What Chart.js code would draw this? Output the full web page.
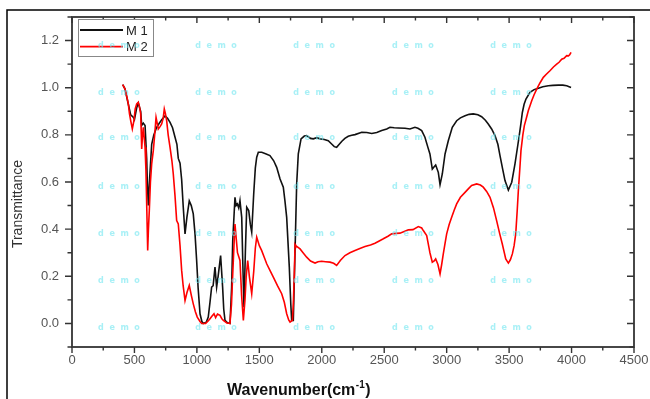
<!DOCTYPE html>
<html>
<head>
<meta charset="utf-8">
<script src="https://cdn.jsdelivr.net/npm/chart.js@4.4.0/dist/chart.umd.min.js"></script>
<style>
  html, body { margin: 0; padding: 0; background: #fff; }
  #wrap { width: 650px; height: 399px; }
</style>
</head>
<body>
<div id="wrap"><canvas id="c" width="650" height="399"></canvas></div>
<script>
// FTIR spectra
const m1Wave = [406, 424, 451, 470, 490, 500, 518, 531, 550, 558, 571, 585, 598, 603, 611, 620, 638, 655, 678, 700,
    720, 745, 765, 785, 805, 825, 840, 851, 865, 878, 890, 905, 920, 939, 955, 971, 985, 998, 1010, 1025,
    1040, 1051, 1075, 1091, 1105, 1118, 1130, 1145, 1158, 1170, 1190, 1206, 1215, 1225, 1245, 1265, 1278, 1287, 1305, 1314,
    1324, 1335, 1345, 1359, 1368, 1377, 1388, 1399, 1415, 1428, 1439, 1455, 1468, 1479, 1492, 1519, 1550, 1585, 1615, 1639,
    1666, 1692, 1705, 1719, 1740, 1752, 1759, 1772, 1786, 1799, 1812, 1834, 1860, 1879, 1910, 1932, 1960, 1986, 2020, 2052,
    2079, 2100, 2119, 2140, 2159, 2185, 2212, 2240, 2266, 2320, 2360, 2400, 2440, 2480, 2520, 2546, 2580, 2613, 2666, 2706,
    2746, 2770, 2800, 2826, 2848, 2866, 2885, 2900, 2912, 2933, 2947, 2965, 2987, 3013, 3045, 3080, 3110, 3147, 3180, 3213,
    3250, 3280, 3310, 3333, 3360, 3387, 3410, 3427, 3450, 3467, 3494, 3521, 3547, 3565, 3579, 3595, 3606, 3620, 3635, 3667,
    3700, 3734, 3770, 3814, 3850, 3894, 3930, 3961, 3996];
const m1Trans = [1.013, 0.995, 0.93, 0.885, 0.875, 0.865, 0.915, 0.935, 0.9, 0.84, 0.85, 0.84, 0.7, 0.6, 0.5, 0.6, 0.76, 0.8, 0.832, 0.85,
    0.865, 0.88, 0.87, 0.853, 0.83, 0.79, 0.76, 0.7, 0.68, 0.61, 0.5, 0.38, 0.45, 0.52, 0.5, 0.465, 0.38, 0.267, 0.15, 0.041,
    0.008, 0.0, 0.005, 0.027, 0.09, 0.154, 0.16, 0.239, 0.154, 0.2, 0.288, 0.154, 0.06, 0.013, 0.003, 0.0, 0.15, 0.352, 0.535, 0.5,
    0.507, 0.49, 0.521, 0.45, 0.25, 0.069, 0.3, 0.493, 0.479, 0.42, 0.387, 0.55, 0.66, 0.705, 0.726, 0.726, 0.72, 0.712, 0.69, 0.662,
    0.613, 0.578, 0.52, 0.45, 0.239, 0.08, 0.013, 0.013, 0.309, 0.592, 0.719, 0.783, 0.795, 0.797, 0.785, 0.783, 0.788, 0.783, 0.78, 0.775,
    0.761, 0.75, 0.747, 0.76, 0.772, 0.785, 0.794, 0.798, 0.801, 0.811, 0.81, 0.806, 0.81, 0.818, 0.825, 0.832, 0.83, 0.829, 0.828, 0.825,
    0.832, 0.828, 0.818, 0.79, 0.75, 0.719, 0.655, 0.665, 0.672, 0.641, 0.589, 0.634, 0.719, 0.775, 0.832, 0.86, 0.872, 0.881, 0.887, 0.889,
    0.885, 0.877, 0.862, 0.846, 0.825, 0.797, 0.76, 0.712, 0.65, 0.606, 0.566, 0.599, 0.677, 0.74, 0.789, 0.85, 0.895, 0.93, 0.952, 0.98,
    0.992, 0.998, 1.004, 1.008, 1.01, 1.011, 1.011, 1.008, 1.001];

const m2Wave = [406, 424, 440, 451, 460, 470, 483, 496, 506, 518, 531, 540, 550, 555, 558, 565, 571, 578, 585, 592,
    598, 606, 612, 619, 628, 638, 651, 662, 673, 682, 691, 705, 718, 730, 739, 748, 758, 770, 785, 800,
    811, 825, 838, 851, 865, 878, 890, 905, 920, 939, 955, 971, 988, 1003, 1025, 1038, 1070, 1090, 1105, 1120,
    1137, 1150, 1165, 1185, 1200, 1212, 1240, 1265, 1277, 1287, 1297, 1305, 1315, 1325, 1345, 1358, 1372, 1385, 1395, 1407,
    1420, 1439, 1455, 1468, 1479, 1500, 1519, 1540, 1559, 1585, 1612, 1645, 1679, 1700, 1719, 1735, 1746, 1765, 1772, 1780,
    1786, 1791, 1826, 1850, 1879, 1910, 1946, 1970, 1999, 2030, 2066, 2095, 2119, 2150, 2186, 2225, 2266, 2305, 2346, 2390,
    2426, 2460, 2493, 2530, 2560, 2595, 2626, 2660, 2693, 2730, 2773, 2800, 2813, 2840, 2858, 2866, 2885, 2900, 2912, 2930,
    2947, 2960, 2973, 2987, 3000, 3020, 3040, 3060, 3080, 3110, 3147, 3175, 3200, 3240, 3270, 3293, 3320, 3347, 3375, 3400,
    3425, 3445, 3473, 3494, 3510, 3526, 3540, 3553, 3565, 3574, 3585, 3595, 3610, 3622, 3640, 3654, 3668, 3681, 3700, 3721,
    3747, 3774, 3800, 3827, 3855, 3881, 3900, 3921, 3940, 3961, 3975, 3985, 3996];
const m2Trans = [1.013, 0.995, 0.96, 0.931, 0.89, 0.86, 0.825, 0.86, 0.91, 0.931, 0.938, 0.92, 0.889, 0.8, 0.74, 0.8, 0.832, 0.79, 0.747, 0.65,
    0.507, 0.309, 0.4, 0.479, 0.6, 0.677, 0.733, 0.8, 0.874, 0.85, 0.825, 0.835, 0.846, 0.87, 0.91, 0.89, 0.86, 0.8, 0.747, 0.69,
    0.634, 0.54, 0.436, 0.422, 0.33, 0.225, 0.16, 0.097, 0.13, 0.161, 0.12, 0.083, 0.05, 0.027, 0.008, 0.0, 0.0, 0.01, 0.02, 0.03,
    0.041, 0.025, 0.04, 0.034, 0.02, 0.013, 0.002, 0.0, 0.08, 0.21, 0.33, 0.422, 0.36, 0.3, 0.267, 0.12, 0.013, 0.1, 0.2, 0.267,
    0.2, 0.126, 0.22, 0.32, 0.366, 0.33, 0.309, 0.28, 0.253, 0.225, 0.196, 0.16, 0.126, 0.09, 0.041, 0.015, 0.006, 0.013, 0.08, 0.21,
    0.335, 0.33, 0.316, 0.3, 0.281, 0.265, 0.256, 0.262, 0.264, 0.262, 0.26, 0.255, 0.246, 0.268, 0.288, 0.3, 0.309, 0.318, 0.326, 0.333,
    0.34, 0.35, 0.359, 0.37, 0.38, 0.382, 0.383, 0.39, 0.397, 0.398, 0.411, 0.405, 0.394, 0.373, 0.323, 0.3, 0.26, 0.265, 0.274, 0.25,
    0.21, 0.25, 0.295, 0.34, 0.38, 0.42, 0.45, 0.48, 0.507, 0.535, 0.556, 0.572, 0.585, 0.592, 0.587, 0.578, 0.56, 0.535, 0.49, 0.436,
    0.38, 0.338, 0.274, 0.256, 0.27, 0.295, 0.33, 0.38, 0.48, 0.564, 0.65, 0.733, 0.8, 0.839, 0.875, 0.903, 0.925, 0.945, 0.97, 0.994,
    1.02, 1.044, 1.058, 1.072, 1.088, 1.1, 1.108, 1.121, 1.125, 1.136, 1.135, 1.14, 1.15];

const xTicks = [0, 500, 1000, 1500, 2000, 2500, 3000, 3500, 4000, 4500];
const yTicks = [0.0, 0.2, 0.4, 0.6, 0.8, 1.0, 1.2];

const toPoints = (xs, ys) => xs.map((x, i) => ({ x: x, y: ys[i] }));

const tickFont = { family: 'Liberation Sans, Arial, sans-serif', size: 13 };

// axes box, tick marks, titles, frame
const axesPlugin = {
    id: 'axesBox',
    afterDatasetsDraw(chart) {
        const ctx = chart.ctx;
        const a = chart.chartArea;
        const xs = chart.scales.x, ys = chart.scales.y;
        ctx.save();
        ctx.strokeStyle = '#333';
        ctx.lineWidth = 1.8;
        ctx.strokeRect(a.left, a.top, a.right - a.left, a.bottom - a.top);

        ctx.lineWidth = 1.4;
        ctx.beginPath();
        for (let i = 0; i < xTicks.length; i++) {
            let px = xs.getPixelForValue(xTicks[i]);
            ctx.moveTo(px, a.bottom); ctx.lineTo(px, a.bottom + 6);
            ctx.moveTo(px, a.top); ctx.lineTo(px, a.top + 6);
            if (i < xTicks.length - 1) {
                let mx = xs.getPixelForValue((xTicks[i] + xTicks[i + 1]) / 2);
                ctx.moveTo(mx, a.bottom); ctx.lineTo(mx, a.bottom + 3.5);
                ctx.moveTo(mx, a.top); ctx.lineTo(mx, a.top + 3.5);
            }
        }
        let yAll = [ys.min].concat(yTicks).concat([ys.max]);
        for (let i = 0; i < yAll.length; i++) {
            let py = ys.getPixelForValue(yAll[i]);
            let major = yTicks.indexOf(yAll[i]) >= 0;
            let len = major ? 7 : 4.5;
            ctx.moveTo(a.left - len, py); ctx.lineTo(a.left, py);
            ctx.moveTo(a.right - len, py); ctx.lineTo(a.right, py);
        }
        for (let i = 0; i < yTicks.length - 1; i++) {
            let py = ys.getPixelForValue((yTicks[i] + yTicks[i + 1]) / 2);
            ctx.moveTo(a.left - 4.5, py); ctx.lineTo(a.left, py);
            ctx.moveTo(a.right - 4.5, py); ctx.lineTo(a.right, py);
        }
        ctx.stroke();

        // outer frame
        ctx.strokeStyle = '#000';
        ctx.lineWidth = 1.5;
        ctx.beginPath();
        ctx.moveTo(7, 399); ctx.lineTo(7, 10); ctx.lineTo(650, 10);
        ctx.stroke();

        // y title
        ctx.fillStyle = '#333';
        ctx.font = '14px Liberation Sans, Arial, sans-serif';
        ctx.textAlign = 'center';
        ctx.textBaseline = 'middle';
        ctx.translate(18, 204);
        ctx.rotate(-Math.PI / 2);
        ctx.fillText('Transmittance', 0, 0);
        ctx.setTransform(1, 0, 0, 1, 0, 0);

        // x title with superscript
        ctx.fillStyle = '#111';
        ctx.textAlign = 'left';
        ctx.textBaseline = 'alphabetic';
        ctx.font = 'bold 16px Liberation Sans, Arial, sans-serif';
        let tx = 227, ty = 395;
        ctx.fillText('Wavenumber(cm', tx, ty);
        tx += ctx.measureText('Wavenumber(cm').width;
        ctx.font = 'bold 10px Liberation Sans, Arial, sans-serif';
        ctx.fillText('-1', tx + 0.5, ty - 7);
        tx += ctx.measureText('-1').width + 1;
        ctx.font = 'bold 16px Liberation Sans, Arial, sans-serif';
        ctx.fillText(')', tx, ty);
        ctx.restore();
    }
};

// boxed legend in the top-left corner of the plot
const legendPlugin = {
    id: 'boxLegend',
    afterDatasetsDraw(chart) {
        const ctx = chart.ctx;
        const a = chart.chartArea;
        const x0 = a.left + 6, y0 = a.top + 2;
        ctx.save();
        ctx.fillStyle = '#fff';
        ctx.fillRect(x0, y0, 75, 37);
        ctx.strokeStyle = '#888';
        ctx.lineWidth = 1;
        ctx.strokeRect(x0 + 0.5, y0 + 0.5, 75, 37);
        ctx.font = '13px Liberation Sans, Arial, sans-serif';
        ctx.textBaseline = 'middle';
        chart.data.datasets.forEach((ds, i) => {
            let ly = y0 + 11 + i * 16.7;
            ctx.strokeStyle = ds.borderColor;
            ctx.lineWidth = 1.8;
            ctx.beginPath();
            ctx.moveTo(x0 + 2, ly); ctx.lineTo(x0 + 45, ly);
            ctx.stroke();
            ctx.fillStyle = '#222';
            ctx.fillText(ds.label, x0 + 48, ly + 1);
        });
        ctx.restore();
    }
};

// faint cyan "demo" watermark of the original export
const markPlugin = {
    id: 'demoMark',
    afterDraw(chart) {
        const ctx = chart.ctx;
        const xs = chart.scales.x, ys = chart.scales.y;
        const cols = [376, 1153, 1938, 2730, 3515];
        const rows = [1.179, 0.977, 0.788, 0.577, 0.381, 0.182, -0.02];
        ctx.save();
        ctx.fillStyle = 'rgba(110, 230, 240, 0.6)';
        ctx.font = 'bold 8px DejaVu Sans, sans-serif';
        ctx.textAlign = 'center';
        ctx.textBaseline = 'middle';
        cols.forEach(c => rows.forEach(r => {
            ctx.fillText('d  e  m  o', xs.getPixelForValue(c), ys.getPixelForValue(r));
        }));
        ctx.restore();
    }
};

new Chart(document.getElementById('c'), {
    type: 'scatter',
    data: {
        datasets: [
            {
                label: 'M 1',
                data: toPoints(m1Wave, m1Trans),
                showLine: true,
                borderColor: '#111',
                borderWidth: 1.6,
                pointRadius: 0,
                tension: 0,
                order: 2
            },
            {
                label: 'M 2',
                data: toPoints(m2Wave, m2Trans),
                showLine: true,
                borderColor: '#f00',
                borderWidth: 1.6,
                pointRadius: 0,
                tension: 0,
                order: 1
            }
        ]
    },
    options: {
        responsive: false,
        animation: false,
        layout: { padding: { left: 0, right: 16, top: 17, bottom: 0 } },
        plugins: {
            legend: { display: false },
            tooltip: { enabled: false }
        },
        scales: {
            x: {
                type: 'linear',
                min: 0,
                max: 4500,
                grid: { display: false, drawTicks: false },
                border: { display: false },
                afterBuildTicks: s => { s.ticks = xTicks.map(v => ({ value: v })); },
                afterFit: s => { s.height = 52; s.paddingLeft = 0; s.paddingRight = 0; },
                ticks: { color: '#555', font: tickFont, padding: 6, maxRotation: 0, callback: v => String(v) }
            },
            y: {
                type: 'linear',
                min: -0.1,
                max: 1.3,
                grid: { display: false, drawTicks: false },
                border: { display: false },
                afterBuildTicks: s => { s.ticks = yTicks.map(v => ({ value: v })); },
                afterFit: s => { s.width = 72; s.paddingTop = 0; s.paddingBottom = 0; },
                ticks: { color: '#555', font: tickFont, padding: 13, callback: v => v.toFixed(1) }
            }
        }
    },
    plugins: [axesPlugin, legendPlugin, markPlugin]
});
</script>
</body>
</html>
